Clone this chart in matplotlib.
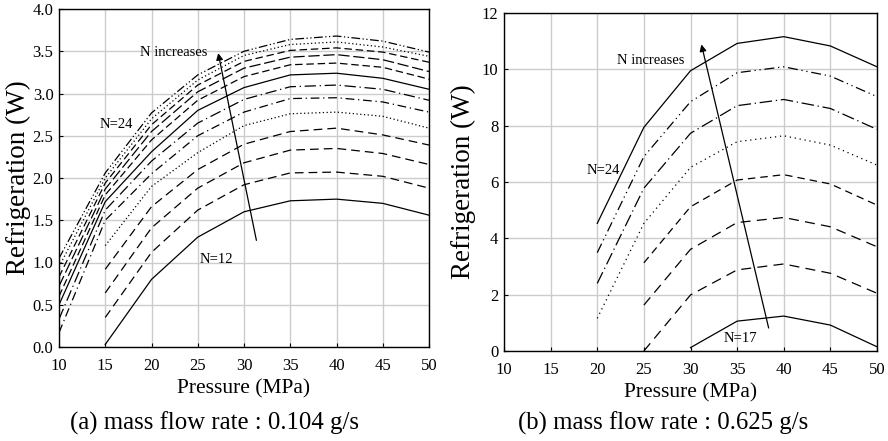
import numpy as np
import matplotlib
matplotlib.use("Agg")
import matplotlib.pyplot as plt

plt.rcParams['font.family'] = ['Liberation Serif', 'DejaVu Serif']
plt.rcParams['mathtext.fontset'] = 'stix'

pressure = [10, 15, 20, 25, 30, 35, 40, 45, 50]
nan = np.nan

# (a) mass flow rate 0.104 g/s, N = 12 ... 24
left_N = [12, 13, 14, 15, 16, 17, 18, 19, 20, 21, 22, 23, 24]
left_vals = {
    12: [nan, 0.03, 0.80, 1.30, 1.60, 1.73, 1.75, 1.70, 1.56],
    13: [nan, 0.35, 1.12, 1.62, 1.92, 2.06, 2.07, 2.02, 1.88],
    14: [nan, 0.64, 1.41, 1.88, 2.18, 2.33, 2.35, 2.29, 2.16],
    15: [nan, 0.92, 1.66, 2.10, 2.40, 2.55, 2.59, 2.51, 2.39],
    16: [nan, 1.20, 1.90, 2.30, 2.62, 2.76, 2.78, 2.73, 2.59],
    17: [0.17, 1.50, 2.05, 2.50, 2.78, 2.94, 2.95, 2.90, 2.78],
    18: [0.33, 1.62, 2.20, 2.65, 2.93, 3.08, 3.10, 3.05, 2.92],
    19: [0.50, 1.72, 2.31, 2.80, 3.07, 3.22, 3.24, 3.18, 3.05],
    20: [0.60, 1.80, 2.45, 2.92, 3.20, 3.34, 3.36, 3.31, 3.17],
    21: [0.72, 1.87, 2.55, 3.02, 3.30, 3.43, 3.46, 3.40, 3.26],
    22: [0.83, 1.94, 2.63, 3.10, 3.38, 3.51, 3.54, 3.49, 3.37],
    23: [0.95, 2.00, 2.70, 3.16, 3.45, 3.58, 3.61, 3.55, 3.44],
    24: [1.05, 2.06, 2.77, 3.22, 3.50, 3.64, 3.68, 3.62, 3.49],
}

# (b) mass flow rate 0.625 g/s, N = 17 ... 24
right_N = [17, 18, 19, 20, 21, 22, 23, 24]
right_vals = {
    17: [nan, nan, nan, nan, 0.12, 1.06, 1.24, 0.92, 0.15],
    18: [nan, nan, nan, 0.00, 1.99, 2.88, 3.09, 2.76, 2.05],
    19: [nan, nan, nan, 1.63, 3.61, 4.56, 4.74, 4.41, 3.70],
    20: [nan, nan, nan, 3.13, 5.12, 6.07, 6.26, 5.93, 5.18],
    21: [nan, nan, 1.16, 4.53, 6.52, 7.43, 7.64, 7.31, 6.60],
    22: [nan, nan, 2.40, 5.78, 7.73, 8.71, 8.93, 8.61, 7.87],
    23: [nan, nan, 3.49, 6.90, 8.85, 9.88, 10.09, 9.76, 9.03],
    24: [nan, nan, 4.53, 7.94, 9.95, 10.92, 11.16, 10.83, 10.09],
}

left_styles = {
    12: '-', 13: (0, (7, 4)), 14: (0, (7, 4)), 15: (0, (7, 4)),
    16: (0, (1, 2)), 17: (0, (7, 3, 1, 3)), 18: (0, (9, 3, 1, 3)),
    19: '-', 20: (0, (6, 3)), 21: (0, (9, 3)), 22: (0, (6, 3)),
    23: (0, (1, 2)), 24: (0, (7, 2, 1, 2, 1, 2)),
}
right_styles = {
    17: '-', 18: (0, (8, 5)), 19: (0, (8, 5)), 20: (0, (6, 4)),
    21: (0, (1, 3)), 22: (0, (10, 3, 1, 3)), 23: (0, (8, 3, 1, 3, 1, 3)),
    24: '-',
}

W, H = 888, 441
fig = plt.figure(figsize=(W / 100, H / 100), dpi=100)
axL = fig.add_axes([59 / W, 1 - 347 / H, 370 / W, 338 / H])
axR = fig.add_axes([504 / W, 1 - 351 / H, 373 / W, 338 / H])

def style_axes(ax, ylim, yticks, yfmt, ylabelpad):
    ax.set_xlim(10, 50)
    ax.set_ylim(*ylim)
    ax.set_xticks(pressure)
    ax.set_yticks(yticks)
    ax.set_yticklabels([yfmt.format(v) for v in yticks])
    ax.grid(True, color='#cccccc', linewidth=1.0)
    ax.set_axisbelow(True)
    ax.tick_params(direction='in', length=3, width=0.8, labelsize=12)
    ax.tick_params(axis='x', pad=8)
    ax.tick_params(axis='y', pad=4)
    for s in ax.spines.values():
        s.set_linewidth(1.0)
        s.set_color('black')
    ax.set_xlabel('Pressure (MPa)', fontsize=15.5, labelpad=4)
    ax.set_ylabel('Refrigeration (W)', fontsize=19.5, labelpad=ylabelpad)

for n in left_N:
    axL.plot(pressure, left_vals[n], color='black', linewidth=0.9,
             linestyle=left_styles[n])
for n in right_N:
    axR.plot(pressure, right_vals[n], color='black', linewidth=0.9,
             linestyle=right_styles[n])

style_axes(axL, (0, 4.0), np.arange(0, 4.01, 0.5), '{:.1f}', 1)
style_axes(axR, (0, 12), np.arange(0, 12.1, 2), '{:.0f}', 4)

arrow_kw = dict(arrowstyle='-|>', color='black', lw=0.9, mutation_scale=10)
axL.annotate('', xy=(27.15, 3.51), xytext=(31.4, 1.23), arrowprops=arrow_kw)
axR.annotate('', xy=(31.1, 10.98), xytext=(38.45, 0.72), arrowprops=arrow_kw)

axL.text(22.4, 3.48, 'N increases', fontsize=10.5, ha='center', va='center')
axL.text(16.2, 2.63, 'N=24', fontsize=10.5, ha='center', va='center')
axL.text(27.05, 1.03, 'N=12', fontsize=10.5, ha='center', va='center')

axR.text(25.7, 10.33, 'N increases', fontsize=10.5, ha='center', va='center')
axR.text(20.67, 6.4, 'N=24', fontsize=10.5, ha='center', va='center')
axR.text(35.3, 0.46, 'N=17', fontsize=10.5, ha='center', va='center')

fig.text(214 / W, 1 - 423 / H, '(a) mass flow rate : 0.104 g/s',
         fontsize=17.8, ha='center', va='center')
fig.text(663 / W, 1 - 423 / H, '(b) mass flow rate : 0.625 g/s',
         fontsize=17.8, ha='center', va='center')

fig.savefig('out.png', dpi=100)
